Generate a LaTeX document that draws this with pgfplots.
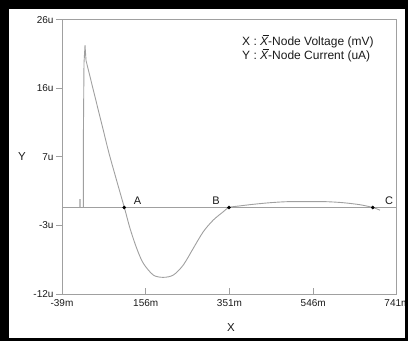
\documentclass[border=0pt]{standalone}
\usepackage{fontspec}
\setmainfont{Liberation Sans}
\usepackage{pgfplots}
\pgfplotsset{compat=1.18}
\definecolor{lgray}{HTML}{A0A0A0}
\definecolor{txt}{HTML}{1A1A1A}
\newcommand{\Xbar}{\leavevmode\rlap{\hspace{2.4bp}\raisebox{9.8bp}{\rule{6bp}{0.55bp}}}{\itshape X}}
\begin{document}
\begin{tikzpicture}
\begin{axis}[
  scale only axis, width=335bp, height=274bp,
  xmin=-39, xmax=741, ymin=-12, ymax=26,
  xtick={-39,156,351,546,741},
  xticklabels={-39m,156m,351m,546m,741m},
  ytick={-12,-2.5,7,16.5,26},
  yticklabels={-12u,-3u,7u,16u,26u},
  axis line style={lgray, line width=1bp},
  tick align=inside, major tick length=6bp,
  tick pos=left,
  tick style={lgray, line width=1bp},
  ytick style={xshift=-6bp},
  yticklabel style={xshift=-5bp, font=\fontsize{10bp}{11bp}\selectfont, text=txt},
  xticklabel style={yshift=-2bp, font=\fontsize{10bp}{11bp}\selectfont, text=txt},
  clip=false,
]
\addplot[lgray, line width=1bp] coordinates {(-39,0) (741,0)};
\addplot[lgray, line width=0.9bp] coordinates {
(0.6,0) (2.2,0) (2.6,1.1) (3.2,1.1) (3.6,0) (10.6,0) (10.8,9.8) (12.2,20.0)
(14.6,22.5) (16.9,20.4)
};
\addplot[lgray, line width=0.9bp, smooth, tension=0.5] coordinates {
(16.9,20.4) (39.7,14.9) (57.2,10.7) (72.8,7.0) (106.1,0)
(119.3,-2.89) (134.9,-5.66) (150.3,-7.74) (173.6,-9.37) (196.9,-9.69)
(220.2,-9.37) (243.4,-7.98) (266.7,-5.66) (290.0,-3.36) (313.3,-1.74)
(336.6,-0.59) (349.8,0) (375.5,0.22) (406.4,0.44) (445.3,0.66) (484.2,0.80)
(530.8,0.82) (577.3,0.80) (616.0,0.66) (654.9,0.38) (684.4,0) (701.4,-0.37)
};
\addplot[only marks, mark=*, mark size=1.6bp, black] coordinates {(106.1,0) (349.8,0) (684.4,0)};
\node[font=\fontsize{11bp}{12bp}\selectfont, text=txt] at (axis cs:136.8,0.9) {A};
\node[font=\fontsize{11bp}{12bp}\selectfont, text=txt] at (axis cs:319.6,0.9) {B};
\node[font=\fontsize{11bp}{12bp}\selectfont, text=txt] at (axis cs:722.4,0.9) {C};
\end{axis}
\node[anchor=north west, align=left, font=\fontsize{12bp}{11.5bp}\selectfont, text=txt, inner sep=0pt] at (180bp,259bp) {X : \Xbar-Node Voltage (mV)\\Y : \Xbar-Node Current (uA)};
\node[font=\fontsize{11.5bp}{13bp}\selectfont, text=txt] at (-40bp,137bp) {Y};
\node[font=\fontsize{11.5bp}{13bp}\selectfont, text=txt] at (169bp,-34bp) {X};
\fill[black, even odd rule] (-62bp,-47bp) rectangle (346bp,294bp) (-53bp,-44bp) rectangle (343bp,285bp);
\pgfresetboundingbox
\path (-62bp,-47bp) rectangle (346bp,294bp);
\end{tikzpicture}
\end{document}
